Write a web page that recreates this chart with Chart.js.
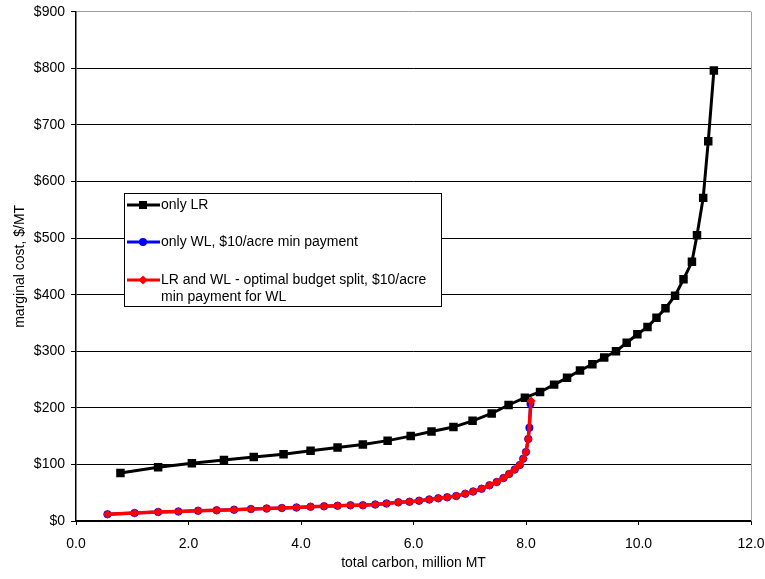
<!DOCTYPE html>
<html>
<head>
<meta charset="utf-8">
<script src="https://cdn.jsdelivr.net/npm/chart.js@4/dist/chart.umd.min.js"></script>
<style>
  html, body { margin: 0; padding: 0; background: #fff; }
  #wrap { width: 765px; height: 579px; }
</style>
</head>
<body>
<div id="wrap"><canvas id="chart" width="765" height="579"></canvas></div>
<script>
// only LR
const lrX = [0.79, 1.46, 2.06, 2.63, 3.16, 3.69, 4.17, 4.65, 5.10, 5.54, 5.95, 6.32, 6.71, 7.05, 7.39, 7.69, 7.98, 8.25,
             8.50, 8.73, 8.96, 9.18, 9.39, 9.60, 9.79, 9.98, 10.16, 10.32, 10.48, 10.65, 10.80, 10.95, 11.04, 11.15, 11.24, 11.34];
const lrY = [85, 95, 102, 108, 113, 118, 124, 130, 135, 142, 150, 158, 166, 177, 190, 205, 218, 228,
             241, 253, 266, 277, 289, 300, 315, 330, 343, 359, 376, 398, 427, 458, 505, 571, 671, 796];

// only WL, $10/acre min payment
const wlX = [0.56, 1.04, 1.46, 1.82, 2.17, 2.50, 2.81, 3.11, 3.39, 3.66, 3.92, 4.17, 4.41, 4.65, 4.88, 5.10, 5.32, 5.52, 5.73,
             5.93, 6.10, 6.28, 6.44, 6.60, 6.76, 6.92, 7.06, 7.21, 7.35, 7.48, 7.60, 7.70, 7.80, 7.89, 7.95, 8.00, 8.04, 8.06, 8.08];
const wlY = [12, 14, 16, 17, 18, 19, 20, 21, 22, 23, 24, 25, 26, 27, 28, 28, 29, 31, 33,
             34, 36, 38, 40, 42, 44, 48, 52, 57, 63, 69, 76, 83, 91, 99, 110, 122, 145, 165, 207];

// LR and WL - optimal budget split
const splitX = [0.56, 1.04, 1.46, 1.82, 2.17, 2.50, 2.81, 3.11, 3.39, 3.66, 3.92, 4.17, 4.41, 4.65, 4.88, 5.10, 5.32, 5.52, 5.73,
                5.93, 6.10, 6.28, 6.44, 6.60, 6.76, 6.92, 7.06, 7.21, 7.35, 7.48, 7.60, 7.70, 7.80, 7.89, 7.95, 8.00, 8.04, 8.09];
const splitY = [12, 14, 16, 17, 18, 19, 20, 21, 22, 23, 24, 25, 26, 27, 28, 28, 29, 31, 33,
                34, 36, 38, 40, 42, 44, 48, 52, 57, 63, 69, 76, 83, 91, 99, 110, 122, 145, 212];

const seriesLabels = ['only LR', 'only WL, $10/acre min payment', 'LR and WL - optimal budget split, $10/acre', 'min payment for WL'];
const xTitle = 'total carbon, million MT';
const yTitle = 'marginal cost, $/MT';

const FONT = 'Liberation Sans, Arial, sans-serif';

function toPoints(xs, ys) {
    return xs.map((x, i) => ({ x: x, y: ys[i] }));
}

function marker(ctx, style, x, y, color) {
    ctx.save();
    ctx.fillStyle = color;
    ctx.beginPath();
    if (style === 'rect') {
        ctx.rect(x - 4, y - 4, 8, 8);
    } else if (style === 'circle') {
        ctx.arc(x, y, 4, 0, Math.PI * 2);
    } else {
        ctx.moveTo(x, y - 4.5);
        ctx.lineTo(x + 4.5, y);
        ctx.lineTo(x, y + 4.5);
        ctx.lineTo(x - 4.5, y);
        ctx.closePath();
    }
    ctx.fill();
    ctx.restore();
}

// legend box + right border, drawn like the excel original
const boxPlugin = {
    id: 'boxPlugin',
    afterDraw(chart) {
        const ctx = chart.ctx;
        const area = chart.chartArea;

        ctx.save();
        ctx.strokeStyle = '#a0a0a0';
        ctx.lineWidth = 1;
        ctx.beginPath();
        ctx.moveTo(Math.round(area.right) + 0.5, area.top);
        ctx.lineTo(Math.round(area.right) + 0.5, area.bottom);
        ctx.stroke();

        // legend
        const lx = 124, ly = 193, lw = 317, lh = 113;
        ctx.fillStyle = '#fff';
        ctx.fillRect(lx, ly, lw, lh);
        ctx.strokeStyle = '#000';
        ctx.strokeRect(lx + 0.5, ly + 0.5, lw, lh);

        const entries = [
            { y: 205, color: '#000', style: 'rect', text: [seriesLabels[0]] },
            { y: 242, color: '#0000ff', style: 'circle', text: [seriesLabels[1]] },
            { y: 280, color: '#ff0000', style: 'rectRot', text: [seriesLabels[2], seriesLabels[3]] }
        ];
        ctx.font = '14px ' + FONT;
        ctx.textBaseline = 'middle';
        entries.forEach(e => {
            ctx.strokeStyle = e.color;
            ctx.lineWidth = 3;
            ctx.beginPath();
            ctx.moveTo(127, e.y);
            ctx.lineTo(160, e.y);
            ctx.stroke();
            marker(ctx, e.style, 143, e.y, e.color);
            ctx.fillStyle = '#000';
            e.text.forEach((t, i) => ctx.fillText(t, 161, e.y + i * 17));
        });
        ctx.restore();
    }
};

new Chart(document.getElementById('chart'), {
    type: 'scatter',
    data: {
        datasets: [
            {
                label: seriesLabels[2],
                data: toPoints(splitX, splitY),
                showLine: true,
                borderColor: '#ff0000',
                backgroundColor: '#ff0000',
                borderWidth: 3.5,
                pointStyle: 'rectRot',
                pointRadius: 4.5,
                pointBorderWidth: 0,
                order: 0
            },
            {
                label: seriesLabels[1],
                data: toPoints(wlX, wlY),
                showLine: true,
                borderColor: '#0000ff',
                backgroundColor: '#0000ff',
                borderWidth: 3,
                pointStyle: 'circle',
                pointRadius: 4,
                pointBorderWidth: 0,
                order: 1
            },
            {
                label: seriesLabels[0],
                data: toPoints(lrX, lrY),
                showLine: true,
                borderColor: '#000',
                backgroundColor: '#000',
                borderWidth: 3,
                pointStyle: 'rect',
                pointRadius: 6,
                pointBorderWidth: 0,
                order: 2
            }
        ]
    },
    options: {
        responsive: false,
        animation: false,
        layout: { padding: { left: 10, top: 11.7, right: 14, bottom: 5 } },
        plugins: {
            legend: { display: false },
            tooltip: { enabled: false }
        },
        scales: {
            x: {
                type: 'linear',
                min: 0,
                max: 12,
                afterFit: scale => {
                    scale.height = 53;
                    scale.paddingLeft = 0;
                    scale.paddingRight = 0;
                },
                ticks: {
                    stepSize: 2,
                    color: '#000',
                    padding: 11,
                    font: { family: FONT, size: 14 },
                    callback: v => v.toFixed(1)
                },
                grid: { drawOnChartArea: false, drawTicks: true, tickLength: 4, color: '#000' },
                border: { color: '#000', width: 1.5 },
                title: { display: true, text: xTitle, color: '#000', font: { family: FONT, size: 14 }, padding: { top: 0, bottom: 2 } }
            },
            y: {
                min: 0,
                max: 900,
                afterFit: scale => {
                    scale.width = 66;
                    scale.paddingTop = 0;
                    scale.paddingBottom = 0;
                },
                ticks: {
                    stepSize: 100,
                    color: '#000',
                    padding: 6,
                    font: { family: FONT, size: 14 },
                    callback: v => '$' + v
                },
                grid: {
                    color: c => (c.tick && c.tick.value === 900) ? '#a0a0a0' : '#000',
                    tickColor: '#000',
                    tickLength: 5,
                    lineWidth: 1
                },
                border: { color: '#000', width: 1.5 },
                title: { display: true, text: yTitle, color: '#000', font: { family: FONT, size: 14 }, padding: { top: 2, bottom: 0 } }
            }
        }
    },
    plugins: [boxPlugin]
});
</script>
</body>
</html>
